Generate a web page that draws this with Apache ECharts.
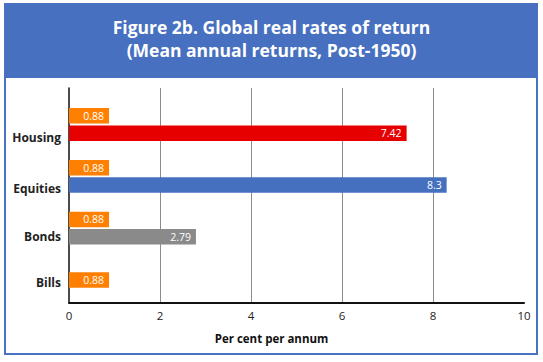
<!DOCTYPE html>
<html><head><meta charset="utf-8">
<script src="https://cdn.jsdelivr.net/npm/echarts@6/dist/echarts.min.js"></script>
<style>html,body{margin:0;padding:0;background:#fff}#c{width:543px;height:362px}</style>
</head><body><div id="c"></div>
<script>
var categories = ['Housing', 'Equities', 'Bonds', 'Bills'];
var billsBenchmark = [0.88, 0.88, 0.88, null];
var assetReturns = [7.42, 8.3, 2.79, null];
var billsOwn = [null, null, null, 0.88];
var assetColors = ['#E60000', '#4570C0', '#8A8A8A', '#8A8A8A'];
var xTicks = [0, 2, 4, 6, 8, 10];
var titleText = 'Figure 2b. Global real rates of return\n(Mean annual returns, Post-1950)';
var xName = 'Per cent per annum';

var chart = echarts.init(document.getElementById('c'), null, {renderer: 'svg'});
var FONT = 'Open Sans';
function lbl(pos, dist) {
  return {show: true, position: pos, distance: dist, color: '#fff', fontSize: 10.5, fontFamily: FONT,
    formatter: function (p) { return p.value; }};
}
var labelShift = [13, 12, 8, 3];
var rich = {};
labelShift.forEach(function (s, i) {
  rich['l' + i] = {color: '#222', fontSize: 12, fontWeight: 'bold', fontFamily: FONT, padding: [2 * s, 0, 0, 0]};
});
chart.setOption({
  animation: false,
  graphic: [
    {type: 'rect', shape: {x: 5, y: 4, width: 532, height: 350}, style: {fill: '#fff', stroke: '#4A72C4', lineWidth: 2}, z: -10},
    {type: 'rect', shape: {x: 5, y: 4, width: 532, height: 74}, style: {fill: '#4770C0'}, z: -9}
  ],
  title: {
    text: titleText, left: 'center', top: 10, padding: [5, 20, 5, 0],
    textStyle: {color: '#fff', fontSize: 17.5, fontWeight: 'bold', fontFamily: FONT, lineHeight: 23}
  },
  grid: [
    {left: 69, right: 19, top: 88, bottom: 59.5},
    {left: 69, right: 19, top: 98.6, bottom: 56.1}
  ],
  xAxis: [
    {type: 'value', gridIndex: 0, min: xTicks[0], max: xTicks[xTicks.length - 1], interval: 2,
      axisLine: {show: true, lineStyle: {color: '#111', width: 2}},
      axisTick: {show: false},
      axisLabel: {color: '#222', fontSize: 11.5, fontFamily: FONT, margin: 7},
      splitLine: {show: true, showMinLine: false, showMaxLine: false, lineStyle: {color: '#8c8c8c', width: 1}},
      name: xName, nameLocation: 'middle', nameGap: 30,
      nameTextStyle: {color: '#111', fontSize: 11.5, fontWeight: 'bold', fontFamily: FONT, padding: [0, 50, 0, 0]}},
    {type: 'value', gridIndex: 1, min: xTicks[0], max: xTicks[xTicks.length - 1], show: false}
  ],
  yAxis: [
    {type: 'value', gridIndex: 0, min: 0, max: 1, axisLabel: {show: false}, splitLine: {show: false},
      axisTick: {show: false}, axisLine: {show: true, lineStyle: {color: '#111', width: 1.5}}},
    {type: 'category', gridIndex: 1, data: categories, inverse: true,
      axisLine: {show: false}, axisTick: {show: false},
      axisLabel: {margin: 8, rich: rich, formatter: function (v, i) { return '{l' + i + '|' + v + '}'; }}},
    {type: 'category', gridIndex: 1, data: categories, inverse: true, show: false}
  ],
  series: [
    {name: 'Bills benchmark', type: 'bar', xAxisIndex: 1, yAxisIndex: 1, data: billsBenchmark,
      barWidth: 15.5, barGap: '12%', itemStyle: {color: '#FF7F00'}, label: lbl('insideRight', 5)},
    {name: 'Asset return', type: 'bar', xAxisIndex: 1, yAxisIndex: 1,
      data: assetReturns.map(function (v, i) { return {value: v, itemStyle: {color: assetColors[i]}}; }),
      barWidth: 15.5, label: lbl('insideRight', 5)},
    {name: 'Bills', type: 'bar', xAxisIndex: 1, yAxisIndex: 2, data: billsOwn,
      barWidth: 15.5, itemStyle: {color: '#FF7F00'}, label: lbl('insideRight', 5)}
  ]
});
</script></body></html>
